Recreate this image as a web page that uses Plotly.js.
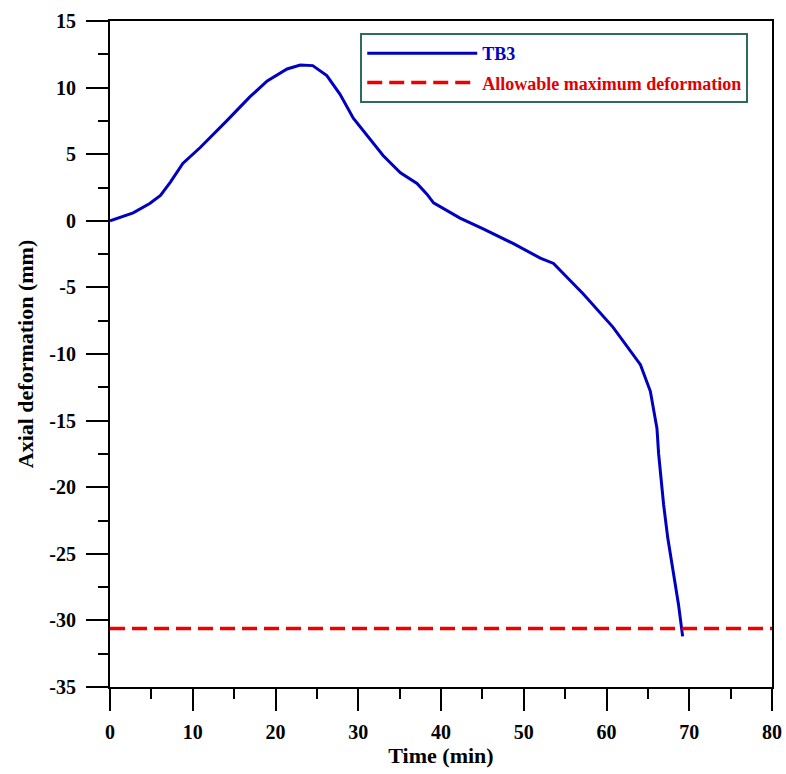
<!DOCTYPE html>
<html>
<head>
<meta charset="utf-8">
<script src="https://cdn.plot.ly/plotly-3.0.1.min.js"></script>
<style>html,body{margin:0;padding:0;background:#fff;}#chart{width:786px;height:774px;}</style>
</head>
<body>
<div id="chart"></div>
<script>
// Time (min) and axial deformation (mm) of TB3
const timeTB3 = [0, 2.8, 4.8, 6.1, 7.3, 8.8, 10.9, 12.9, 14.1, 15.5, 16.9, 19.0, 21.4, 23.0, 24.5, 26.2, 27.8, 29.4, 31.1, 33.0, 35.1, 37.1, 38.3, 39.1, 42.3, 45.1, 48.7, 52.0, 53.6, 57.2, 60.8, 64.1, 65.3, 66.1, 66.3, 66.9, 67.4, 68.1, 68.7, 69.2];
const defTB3  = [0, 0.6, 1.3, 1.9, 2.9, 4.3, 5.5, 6.8, 7.5, 8.4, 9.3, 10.5, 11.4, 11.7, 11.65, 10.9, 9.5, 7.7, 6.4, 4.9, 3.6, 2.8, 2.0, 1.35, 0.2, -0.6, -1.7, -2.8, -3.2, -5.5, -8.0, -10.8, -12.8, -15.6, -17.5, -21.3, -23.8, -26.5, -28.8, -31.2];
// Allowable maximum deformation
const limitTime = [0, 80];
const limitDef  = [-30.6, -30.6];
const seriesNames = ['TB3', 'Allowable maximum deformation'];
const xTicks = [0, 10, 20, 30, 40, 50, 60, 70, 80];
const yTicks = [15, 10, 5, 0, -5, -10, -15, -20, -25, -30, -35];

const fontFam = '"Liberation Serif", "Times New Roman", serif';

const traces = [
  {
    x: timeTB3, y: defTB3, type: 'scatter', mode: 'lines',
    name: '<span style="color:#0000c8">' + seriesNames[0] + '</span>',
    legendgroup: 'a',
    line: {color: '#0000c0', width: 3}
  },
  {
    x: limitTime, y: limitDef, type: 'scatter', mode: 'lines',
    name: '<span style="color:#e00000">' + seriesNames[1] + '</span>',
    legendgroup: 'b',
    line: {color: '#ee0000', width: 3.5, dash: '15px,7px'}
  }
];

const axisCommon = {
  showline: true, linecolor: '#000', linewidth: 2, mirror: true,
  ticks: 'outside', ticklen: 22, tickwidth: 2, tickcolor: '#000',
  showgrid: false, zeroline: false,
  tickfont: {family: fontFam, size: 20, color: '#000', weight: 'bold'},
  tickmode: 'array'
};

const layout = {
  width: 786, height: 774,
  paper_bgcolor: '#fff', plot_bgcolor: '#fff',
  margin: {l: 110, r: 14, t: 21, b: 87},
  font: {family: fontFam, color: '#000'},
  showlegend: true,
  legend: {
    x: 0.378, y: 0.982, xanchor: 'left', yanchor: 'top',
    bgcolor: '#fff', bordercolor: '#2d6b5b', borderwidth: 2,
    font: {family: fontFam, size: 18, weight: 'bold'},
    itemwidth: 110, tracegroupgap: 3, traceorder: 'grouped'
  },
  xaxis: Object.assign({}, axisCommon, {
    range: [0, 80], tickvals: xTicks, ticktext: xTicks.map(String),
    minor: {ticks: 'outside', ticklen: 10, tickwidth: 2, tickcolor: '#000', dtick: 5, showgrid: false},
    ticklabelstandoff: 4,
    title: {text: '<b>Time (min)</b>', font: {family: fontFam, size: 22, color: '#000'}, standoff: 4}
  }),
  yaxis: Object.assign({}, axisCommon, {
    range: [-35, 15], tickvals: yTicks, ticktext: yTicks.map(String),
    minor: {ticks: 'outside', ticklen: 10, tickwidth: 2, tickcolor: '#000', dtick: 2.5, showgrid: false},
    ticklabelstandoff: 6,
    title: {text: '<b>Axial deformation (mm)</b>', font: {family: fontFam, size: 22, color: '#000'}, standoff: 10}
  })
};

Plotly.newPlot('chart', traces, layout, {displayModeBar: false, staticPlot: true});
</script>
</body>
</html>
